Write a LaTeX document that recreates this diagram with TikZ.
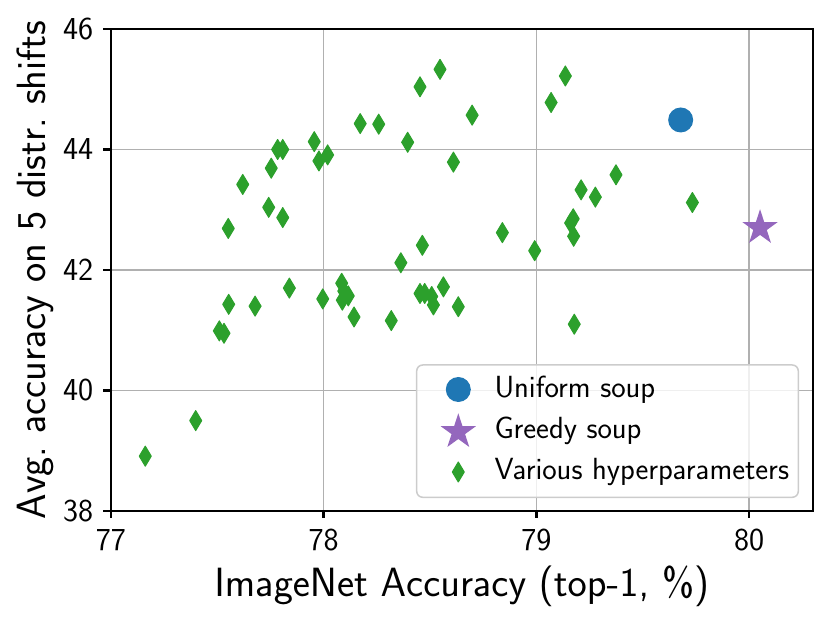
\documentclass[tikz,border=0pt]{standalone}
\definecolor{dgreen}{HTML}{2CA02C}
\definecolor{sblue}{HTML}{1F77B4}
\definecolor{spurple}{HTML}{9467BD}
\definecolor{gridc}{HTML}{B0B0B0}
\definecolor{legedge}{HTML}{CCCCCC}
\font\tickfont=cmss17 at 32pt
\font\labfont=cmss17 at 40.85pt
\font\legfont=cmss17 at 30.6pt
\tikzset{
  gridline/.style={gridc, line width=1.5pt},
  spine/.style={black, line width=2.6pt, line cap=rect},
  tickmark/.style={black, line width=2.4pt},
  ticklab/.style={inner sep=0pt, font=\tickfont},
  dmark/.style={fill=dgreen, draw=dgreen, line width=1pt, line join=round},
}
\newcommand\dmk[1]{\path[dmark, shift={(#1)}] (0,10pt) -- (6pt,0) -- (0,-10pt) -- (-6pt,0) -- cycle;}
\newcommand\smk[1]{\fill[spurple, shift={(#1)}] (90:18.6pt) -- (126:7.1pt) -- (162:18.6pt) -- (198:7.1pt) -- (234:18.6pt) -- (270:7.1pt) -- (306:18.6pt) -- (342:7.1pt) -- (18:18.6pt) -- (54:7.1pt) -- cycle;}
\begin{document}
\begin{tikzpicture}[x=1pt,y=1pt]
\useasboundingbox (0,0) rectangle (831,624);
\begin{scope}[shift={(110.8pt,113pt)}, x=212.8pt, y=60.25pt]
  % grid
  \foreach \gx in {1,2,3} \draw[gridline] (\gx,0) -- (\gx,8);
  \foreach \gy in {2,4,6} \draw[gridline] (0,\gy) -- (3.3,\gy);
  % various hyperparameters
  \foreach \p in {
    {0.162,0.91},{0.399,1.50},{0.510,2.99},{0.532,2.95},{0.554,3.43},{0.678,3.40},
    {0.839,3.70},{0.996,3.52},{1.085,3.78},{1.088,3.50},{1.116,3.57},{1.095,3.65},
    {1.143,3.22},{1.318,3.16},{1.453,3.61},{1.475,3.61},{1.508,3.56},{1.516,3.42},
    {1.563,3.72},{1.633,3.39},{2.178,3.10},{1.363,4.12},{1.464,4.41},{1.840,4.62},
    {1.992,4.32},{0.552,4.69},{0.808,4.87},{0.742,5.04},{0.620,5.42},{0.754,5.69},
    {0.784,6.00},{0.808,6.00},{0.956,6.13},{0.978,5.81},{1.019,5.91},{1.172,6.43},
    {1.259,6.42},{1.395,6.12},{1.453,7.04},{1.547,7.33},{1.698,6.57},{1.610,5.79},
    {2.069,6.78},{2.136,7.22},{2.374,5.58},{2.210,5.33},{2.277,5.21},{2.733,5.12},
    {2.173,4.85},{2.161,4.78},{2.175,4.56}}
    \dmk{\p};
  % uniform soup
  \fill[sblue] (2.678,6.49) circle (12.5pt);
  % greedy soup
  \smk{3.051,4.70}
  % spines
  \draw[spine] (0,0) rectangle (3.3,8);
  % ticks
  \foreach \gx/\lab in {0/77,1/78,2/79,3/80} {
    \draw[tickmark] (\gx,0) -- ++(0,-7.5pt);
    \node[ticklab, anchor=north] (xt\lab) at ([yshift=-18.3pt]\gx,0) {\lab};
  }
  \foreach \gy/\lab in {0/38,2/40,4/42,6/44,8/46} {
    \draw[tickmark] (0,\gy) -- ++(-7.5pt,0);
    \node[ticklab, anchor=east] (yt\lab) at ([xshift=-17.3pt]0,\gy) {\lab};
  }
\end{scope}
% axis labels
\node[inner sep=0pt, anchor=base, font=\labfont] (xlab) at (462,27) {ImageNet Accuracy (top-1, \%)};
\node[inner sep=0pt, anchor=base, rotate=90, font=\labfont] (ylab) at (45,354) {Avg.\ accuracy on 5 distr.\ shifts};
% legend
\draw[legedge, line width=1.5pt, fill=white, fill opacity=0.8, rounded corners=6pt] (416.7,126.7) rectangle (798.3,259);
\fill[sblue] (458.3,234.5) circle (12.5pt);
\smk{458.3,192.1}
\dmk{458.3,152}
\node[inner sep=0pt, anchor=base west, font=\legfont] (l1) at (494.3,226.3) {Uniform soup};
\node[inner sep=0pt, anchor=base west, font=\legfont] (l2) at (494.3,185.7) {Greedy soup};
\node[inner sep=0pt, anchor=base west, font=\legfont] (l3) at (494.3,144.7) {Various hyperparameters};
\end{tikzpicture}
\end{document}
